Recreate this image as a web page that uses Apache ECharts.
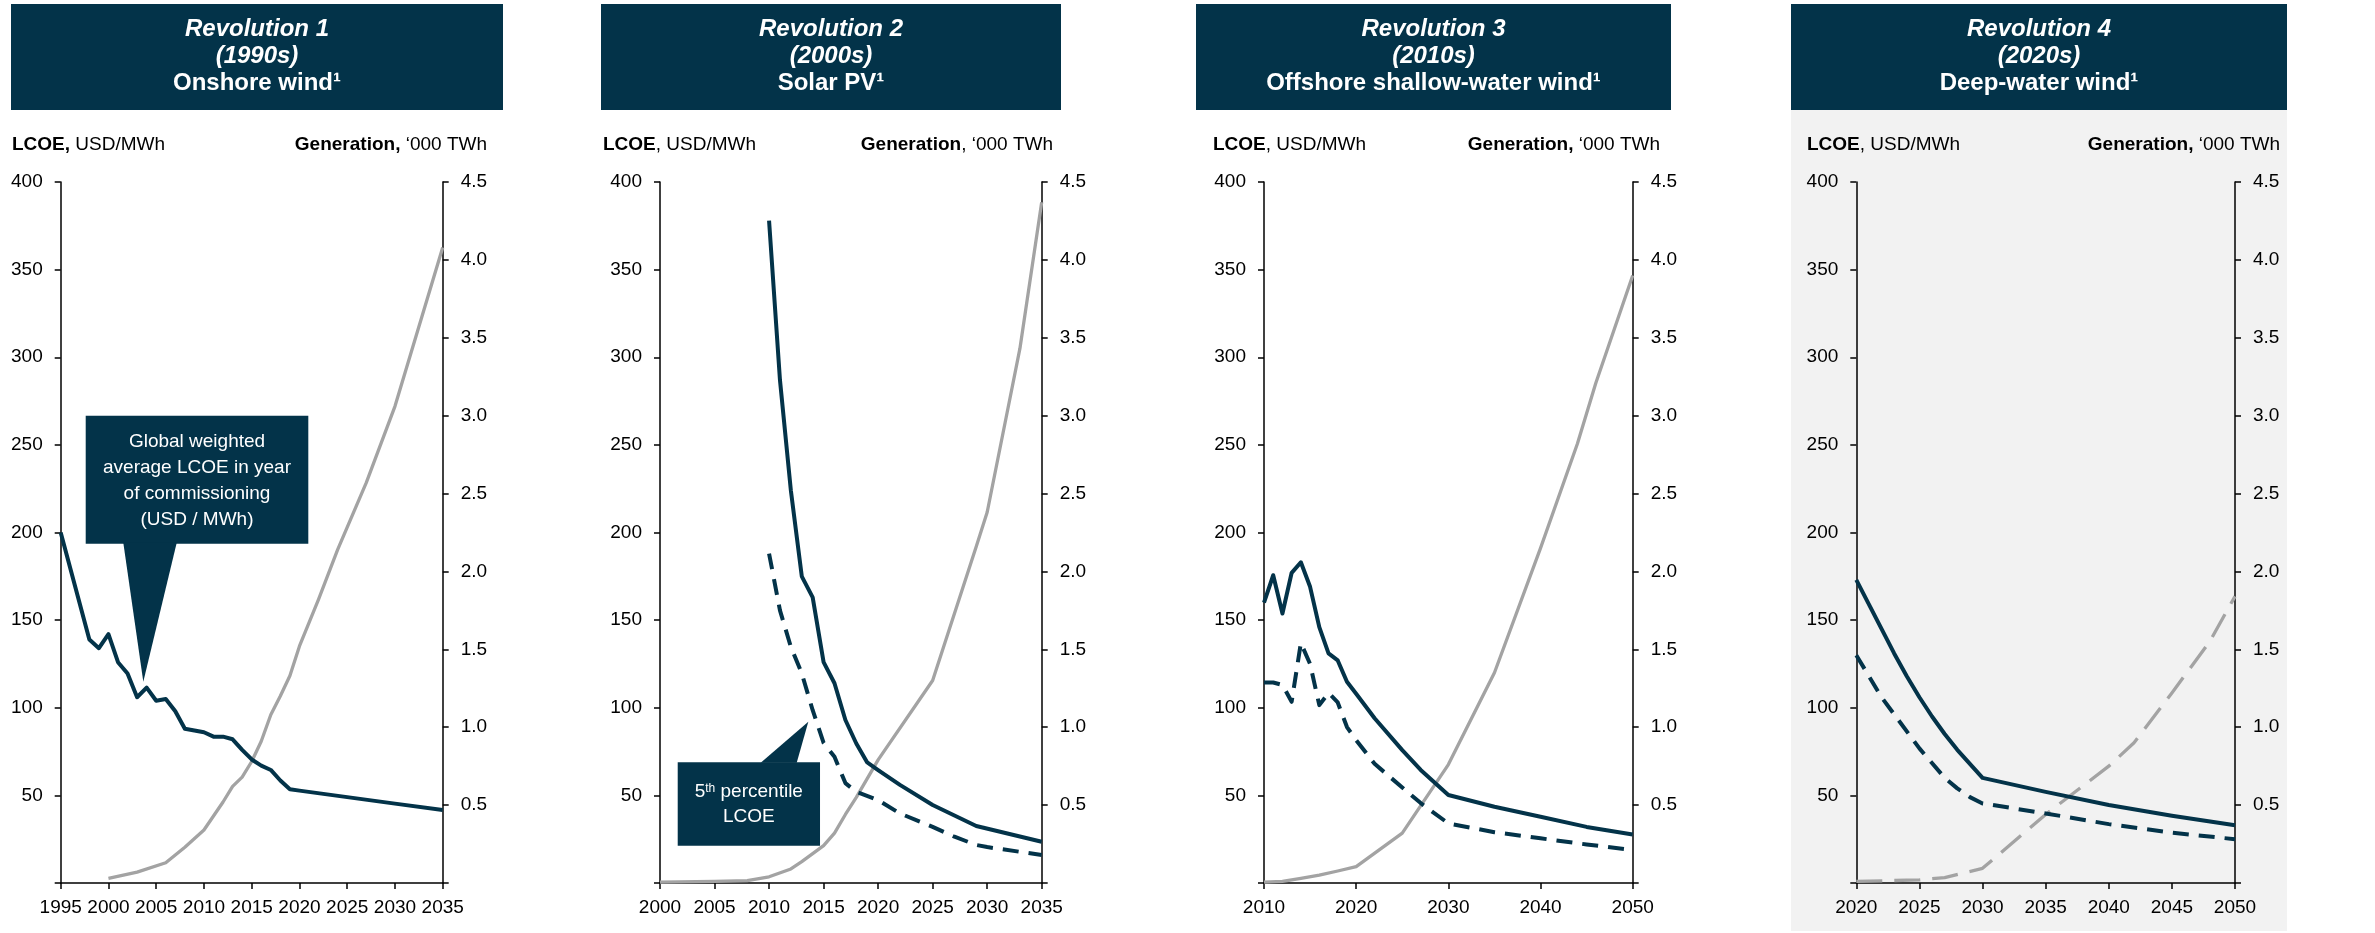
<!DOCTYPE html>
<html>
<head>
<meta charset="utf-8">
<script src="https://cdn.jsdelivr.net/npm/echarts@6/dist/echarts.min.js"></script>
<style>
  html, body { margin: 0; padding: 0; background: #ffffff; }
  #chart { width: 2375px; height: 933px; }
</style>
</head>
<body>
<div id="chart"></div>
<script>
// ---------- Palette & type ----------
const NAVY = '#033349';
const GREY = '#a3a3a3';
const PANEL_BG = '#f2f2f2';
const FONT = '"Liberation Sans", Arial, Helvetica, sans-serif';

// ---------- Panel headings ----------
const panelTitles  = ['Revolution 1', 'Revolution 2', 'Revolution 3', 'Revolution 4'];
const panelDecades = ['(1990s)', '(2000s)', '(2010s)', '(2020s)'];
const panelTechs   = ['Onshore wind\u00b9', 'Solar PV\u00b9', 'Offshore shallow-water wind\u00b9', 'Deep-water wind\u00b9'];

// Axis captions (bold part, regular part) per panel
const lcoeCaptions = [['LCOE,', ' USD/MWh'], ['LCOE', ', USD/MWh'], ['LCOE', ', USD/MWh'], ['LCOE', ', USD/MWh']];
const genCaptions  = [['Generation,', ' \u2018000 TWh'], ['Generation', ', \u2018000 TWh'], ['Generation,', ' \u2018000 TWh'], ['Generation,', ' \u2018000 TWh']];

// ---------- Axis ranges ----------
const yearMin  = [1995, 2000, 2010, 2020];
const yearMax  = [2035, 2035, 2050, 2050];
const yearStep = [5, 5, 10, 5];
const lcoeMax = 400, lcoeStep = 50;
const genMax = 4.5, genStep = 0.5;

// ---------- Revolution 1: onshore wind ----------
const onshoreYears = [1995, 1998, 1999, 2000, 2001, 2002, 2003, 2004, 2005, 2006, 2007, 2008, 2009, 2010,
                      2011, 2012, 2013, 2014, 2015, 2016, 2017, 2018, 2019, 2020, 2025, 2030, 2035];
const onshoreLcoe  = [200, 139, 134, 142, 126, 119.5, 106, 111.5, 104, 105, 98, 88, 87, 86,
                      83.5, 83.5, 82, 76, 70.5, 67, 64.5, 58.5, 53.5, 52.7, 49, 45.3, 41.6];
const onshoreGenYears = [2000, 2003, 2006, 2008, 2010, 2012, 2013, 2014, 2015, 2016, 2017, 2018, 2019,
                         2020, 2022, 2024, 2027, 2030, 2035];
const onshoreGen      = [0.03, 0.07, 0.13, 0.23, 0.34, 0.52, 0.62, 0.68, 0.78, 0.91, 1.08, 1.20, 1.33,
                         1.52, 1.82, 2.14, 2.57, 3.06, 4.08];

// ---------- Revolution 2: solar PV ----------
const solarYears = [2010, 2011, 2012, 2013, 2014, 2015, 2016, 2017, 2018, 2019, 2020, 2022, 2025, 2027, 2029, 2035];
const solarLcoe  = [378, 287, 224, 175, 163, 126, 114, 93, 79.6, 68.8, 64.4, 56, 44.5, 38.5, 32.5, 23.5];
const solarP5Years = [2010, 2011, 2012, 2013, 2014, 2015, 2016, 2017, 2018, 2020, 2022, 2025, 2027, 2029, 2030, 2035];
const solarP5      = [188, 155.6, 134.7, 119.6, 98.6, 80, 72, 57, 52, 47.3, 39.7, 32, 26.4, 21.7, 20.5, 16];
const solarGenYears = [2000, 2005, 2008, 2010, 2012, 2013, 2015, 2016, 2017, 2018, 2020, 2025, 2027, 2029, 2030, 2032, 2033, 2034, 2035];
const solarGen      = [0.005, 0.01, 0.015, 0.04, 0.09, 0.137, 0.24, 0.32, 0.44, 0.55, 0.79, 1.30, 1.73, 2.16, 2.38, 3.08, 3.43, 3.9, 4.37];

// ---------- Revolution 3: offshore shallow-water wind ----------
const offshoreYears = [2010, 2011, 2012, 2013, 2014, 2015, 2016, 2017, 2018, 2019, 2020, 2022, 2025, 2027, 2030, 2035, 2040, 2045, 2050];
const offshoreLcoe  = [160, 175.6, 153.8, 177, 183, 169, 146, 131, 127, 114.8, 108, 94, 75.8, 64.5, 50.2, 43.5, 37.8, 32, 27.7];
const offshoreP5Years = [2010, 2011, 2012, 2013, 2014, 2015, 2016, 2017, 2018, 2019, 2020, 2022, 2025, 2027, 2030, 2035, 2040, 2045, 2050];
const offshoreP5      = [114.4, 114.4, 113, 103.4, 137, 125, 101.5, 108.5, 103, 89, 81.5, 68, 54.5, 45.6, 34, 29, 25.5, 22, 18.8];
const offshoreGenYears = [2010, 2012, 2014, 2016, 2018, 2020, 2025, 2030, 2035, 2040, 2044, 2046, 2050];
const offshoreGen      = [0.005, 0.01, 0.03, 0.05, 0.077, 0.105, 0.32, 0.76, 1.35, 2.15, 2.82, 3.21, 3.90];

// ---------- Revolution 4: deep-water wind ----------
const deepYears = [2020, 2021, 2022, 2023, 2024, 2025, 2026, 2027, 2028, 2029, 2030, 2035, 2040, 2045, 2050];
const deepLcoe  = [173, 159, 145, 131, 118, 106, 95, 85, 76, 68, 60, 52, 44.5, 38.4, 33];
const deepP5Years = [2020, 2022, 2025, 2027, 2028, 2029, 2030, 2035, 2040, 2045, 2050];
const deepP5      = [130, 106, 76.8, 60, 54, 49, 45.4, 39.7, 33.6, 28.7, 25];
const deepGenYears = [2020, 2025, 2027, 2030, 2035, 2040, 2042, 2045, 2048, 2050];
const deepGen      = [0.01, 0.02, 0.035, 0.094, 0.44, 0.75, 0.90, 1.22, 1.55, 1.84];

// ---------- Layout ----------
const headerBoxes = [[11, 503], [601, 1061], [1196, 1671], [1791, 2287]];   // x-extent of each heading bar
const captionX    = [[12, 487], [603, 1053], [1213, 1660], [1807, 2280]];   // left / right caption anchors
const plotBoxes   = [[60.7, 382], [660, 381.7], [1264, 368.7], [1856.3, 378.7]]; // grid left, width
const PLOT_TOP = 182, PLOT_H = 701;

const zip = (xs, ys) => xs.map((x, i) => [x, ys[i]]);

const axisLine = { show: true, lineStyle: { color: '#000', width: 1.5 } };
const axisTick = { show: true, length: 6, lineStyle: { color: '#000', width: 1.5 } };
const labelBase = { color: '#000', fontSize: 19, fontFamily: FONT };

const grids = [], xAxes = [], yAxes = [];
plotBoxes.forEach(([left, width], i) => {
  grids.push({ left, top: PLOT_TOP, width, height: PLOT_H, containLabel: false });
  xAxes.push({
    type: 'value', gridIndex: i, min: yearMin[i], max: yearMax[i], interval: yearStep[i],
    axisLine, axisTick, splitLine: { show: false },
    axisLabel: Object.assign({ margin: 15, formatter: v => String(v) }, labelBase)
  });
  yAxes.push({
    type: 'value', gridIndex: i, position: 'left', min: 0, max: lcoeMax, interval: lcoeStep,
    axisLine, axisTick, splitLine: { show: false },
    axisLabel: Object.assign({ margin: 18, formatter: v => (v === 0 ? '' : String(v)) }, labelBase)
  });
  yAxes.push({
    type: 'value', gridIndex: i, position: 'right', min: 0, max: genMax, interval: genStep,
    axisLine, axisTick, splitLine: { show: false },
    axisLabel: Object.assign({ margin: 18, formatter: v => (v === 0 ? '' : v.toFixed(1)) }, labelBase)
  });
});

function line(panel, data, color, width, dashed, onRight) {
  return {
    type: 'line', xAxisIndex: panel, yAxisIndex: panel * 2 + (onRight ? 1 : 0),
    data, symbol: 'none', smooth: false, silent: true, animation: false,
    z: onRight ? 2 : 3,
    lineStyle: { color, width, type: dashed || 'solid', cap: 'butt', join: 'round' }
  };
}
const navyDash = [16, 10];
const greyDash = [26, 12];

const series = [
  line(0, zip(onshoreGenYears, onshoreGen), GREY, 3.3, null, true),
  line(0, zip(onshoreYears, onshoreLcoe), NAVY, 4, null, false),

  line(1, zip(solarGenYears, solarGen), GREY, 3.3, null, true),
  line(1, zip(solarP5Years, solarP5), NAVY, 4, navyDash, false),
  line(1, zip(solarYears, solarLcoe), NAVY, 4, null, false),

  line(2, zip(offshoreGenYears, offshoreGen), GREY, 3.3, null, true),
  line(2, zip(offshoreP5Years, offshoreP5), NAVY, 4, navyDash, false),
  line(2, zip(offshoreYears, offshoreLcoe), NAVY, 4, null, false),

  line(3, zip(deepGenYears, deepGen), GREY, 3.3, greyDash, true),
  line(3, zip(deepP5Years, deepP5), NAVY, 4, navyDash, false),
  line(3, zip(deepYears, deepLcoe), NAVY, 4, null, false)
];

// ---------- Static decorations: headings, captions, shaded last panel ----------
const graphics = [];
graphics.push({ type: 'rect', z: -10, silent: true,
  shape: { x: headerBoxes[3][0], y: 110, width: headerBoxes[3][1] - headerBoxes[3][0], height: 821 },
  style: { fill: PANEL_BG } });

headerBoxes.forEach(([x0, x1], i) => {
  const cx = (x0 + x1) / 2;
  graphics.push({ type: 'rect', z: 10, silent: true,
    shape: { x: x0, y: 4, width: x1 - x0, height: 106 }, style: { fill: NAVY } });
  [[panelTitles[i], 'italic', 29], [panelDecades[i], 'italic', 56], [panelTechs[i], 'normal', 83]].forEach(([t, st, y]) => {
    graphics.push({ type: 'text', z: 11, silent: true, x: cx, y,
      style: { text: t, fill: '#ffffff', font: `${st} bold 24px ${FONT}`, align: 'center', verticalAlign: 'middle' } });
  });
  const rich = {
    b: { fontWeight: 'bold', fontSize: 19, fontFamily: FONT, fill: '#000' },
    r: { fontWeight: 'normal', fontSize: 19, fontFamily: FONT, fill: '#000' }
  };
  graphics.push({ type: 'text', z: 11, silent: true, x: captionX[i][0], y: 145,
    style: { text: `{b|${lcoeCaptions[i][0]}}{r|${lcoeCaptions[i][1]}}`, rich, align: 'left', verticalAlign: 'middle' } });
  graphics.push({ type: 'text', z: 11, silent: true, x: captionX[i][1], y: 145,
    style: { text: `{b|${genCaptions[i][0]}}{r|${genCaptions[i][1]}}`, rich, align: 'right', verticalAlign: 'middle' } });
});

const chart = echarts.init(document.getElementById('chart'), null, { renderer: 'canvas' });
chart.setOption({
  animation: false,
  backgroundColor: '#ffffff',
  grid: grids, xAxis: xAxes, yAxis: yAxes, series, graphic: graphics
});

// ---------- Call-outs, anchored to the data point they describe ----------
const tip1 = chart.convertToPixel({ xAxisIndex: 0, yAxisIndex: 0 }, [2003.65, 114.8]);
const tip2 = chart.convertToPixel({ xAxisIndex: 1, yAxisIndex: 2 }, [2013.6, 92]);

const calloutFont = { fontSize: 19, fontFamily: FONT, fill: '#ffffff' };
const callouts = [
  // Global weighted average
  { type: 'rect', z: 50, silent: true,
    shape: { x: tip1[0] - 57.6, y: tip1[1] - 266, width: 222.6, height: 128 }, style: { fill: NAVY } },
  { type: 'polygon', z: 50, silent: true,
    shape: { points: [[tip1[0] - 20, tip1[1] - 139], [tip1[0] + 33.4, tip1[1] - 139], [tip1[0], tip1[1]]] }, style: { fill: NAVY } },
  { type: 'text', z: 51, silent: true, x: tip1[0] + 53.7, y: tip1[1] - 201,
    style: Object.assign({ text: 'Global weighted\naverage LCOE in year\nof commissioning\n(USD / MWh)',
      align: 'center', verticalAlign: 'middle', lineHeight: 26 }, calloutFont) },
  // 5th percentile
  { type: 'rect', z: 50, silent: true,
    shape: { x: tip2[0] - 130.6, y: tip2[1] + 40.6, width: 142.3, height: 83.4 }, style: { fill: NAVY } },
  { type: 'polygon', z: 50, silent: true,
    shape: { points: [[tip2[0] - 47.6, tip2[1] + 41], [tip2[0] - 11.6, tip2[1] + 41], [tip2[0], tip2[1]]] }, style: { fill: NAVY } },
  { type: 'text', z: 51, silent: true, x: tip2[0] - 59.5, y: tip2[1] + 82.5,
    style: { text: '{n|5}{s|th}{n| percentile}\n{n|LCOE}', align: 'center', verticalAlign: 'middle',
      rich: {
        n: Object.assign({ lineHeight: 25 }, calloutFont),
        s: { fontSize: 12, fontFamily: FONT, fill: '#ffffff', lineHeight: 25, verticalAlign: 'top', padding: [3, 0, 0, 0] }
      } } }
];
chart.setOption({ graphic: graphics.concat(callouts) });
</script>
</body>
</html>
